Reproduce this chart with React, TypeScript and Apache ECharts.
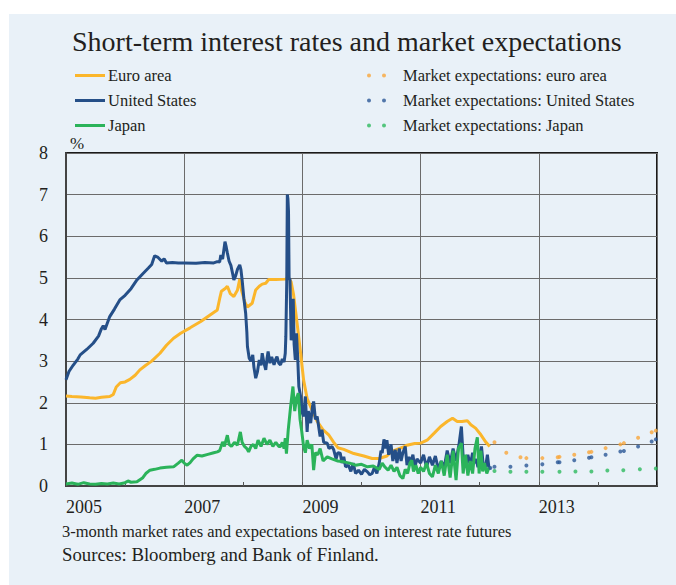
import React, { useEffect, useRef } from 'react';
import * as echarts from 'echarts';

const chartTitle = 'Short-term interest rates and market expectations';
const footnote = '3-month market rates and expectations based on interest rate futures';
const sources = 'Sources: Bloomberg and Bank of Finland.';
const yearTicks = [2005, 2007, 2009, 2011, 2013];

const euroArea: [number, number][] = [
  [2005.0, 2.16], [2005.1, 2.15], [2005.25, 2.14], [2005.4, 2.12], [2005.5, 2.11], [2005.6, 2.13],
  [2005.74, 2.15], [2005.8, 2.2], [2005.85, 2.38], [2005.92, 2.48], [2006.0, 2.5], [2006.08, 2.56],
  [2006.17, 2.66], [2006.25, 2.79], [2006.35, 2.9], [2006.45, 3.0], [2006.59, 3.19], [2006.7, 3.38],
  [2006.82, 3.55], [2006.94, 3.67], [2007.1, 3.8], [2007.28, 3.95], [2007.45, 4.12], [2007.56, 4.23],
  [2007.6, 4.5], [2007.63, 4.68], [2007.7, 4.75], [2007.73, 4.8], [2007.78, 4.62], [2007.84, 4.55],
  [2007.9, 4.7], [2007.94, 4.97], [2007.97, 4.7], [2008.03, 4.4], [2008.07, 4.3], [2008.15, 4.39],
  [2008.21, 4.71], [2008.27, 4.8], [2008.32, 4.85], [2008.38, 4.87], [2008.43, 4.96], [2008.55, 4.96],
  [2008.71, 4.97], [2008.77, 5.0], [2008.81, 4.9], [2008.85, 4.6], [2008.91, 3.91], [2008.97, 3.19],
  [2009.02, 2.55], [2009.08, 2.1], [2009.14, 1.9], [2009.25, 1.55], [2009.35, 1.35], [2009.45, 1.22],
  [2009.53, 1.05], [2009.6, 0.92], [2009.7, 0.88], [2009.87, 0.78], [2010.04, 0.72], [2010.18, 0.66],
  [2010.3, 0.66], [2010.43, 0.72], [2010.5, 0.82], [2010.6, 0.88], [2010.7, 0.93], [2010.77, 0.98],
  [2010.9, 1.02], [2011.0, 1.03], [2011.11, 1.1], [2011.23, 1.27], [2011.34, 1.43], [2011.45, 1.55],
  [2011.54, 1.63], [2011.62, 1.55], [2011.7, 1.55], [2011.79, 1.57], [2011.85, 1.47], [2011.93, 1.39],
  [2012.02, 1.23], [2012.1, 1.06], [2012.17, 0.95]
];

const unitedStates: [number, number][] = [
  [2005.0, 2.55], [2005.05, 2.75], [2005.12, 2.9], [2005.2, 3.05], [2005.24, 3.15], [2005.35, 3.28],
  [2005.46, 3.43], [2005.55, 3.6], [2005.6, 3.78], [2005.63, 3.85], [2005.66, 3.76], [2005.74, 4.07],
  [2005.82, 4.25], [2005.91, 4.47], [2006.0, 4.58], [2006.1, 4.74], [2006.2, 4.95], [2006.3, 5.1],
  [2006.39, 5.23], [2006.45, 5.32], [2006.5, 5.53], [2006.55, 5.5], [2006.62, 5.4], [2006.66, 5.46],
  [2006.7, 5.36], [2006.8, 5.37], [2006.9, 5.36], [2007.0, 5.36], [2007.2, 5.35], [2007.35, 5.37],
  [2007.5, 5.36], [2007.56, 5.39], [2007.6, 5.38], [2007.62, 5.55], [2007.65, 5.45], [2007.69, 5.87],
  [2007.71, 5.75], [2007.73, 5.6], [2007.76, 5.4], [2007.79, 5.3], [2007.82, 5.1], [2007.84, 4.95],
  [2007.87, 5.05], [2007.9, 5.2], [2007.94, 5.31], [2007.96, 5.2], [2007.98, 4.95], [2008.01, 4.5],
  [2008.04, 4.15], [2008.06, 3.7], [2008.07, 3.35], [2008.1, 3.07], [2008.13, 3.0], [2008.16, 3.15],
  [2008.18, 2.85], [2008.21, 2.59], [2008.24, 2.75], [2008.27, 3.03], [2008.3, 2.9], [2008.32, 3.19],
  [2008.35, 2.95], [2008.38, 2.79], [2008.4, 3.05], [2008.42, 3.23], [2008.45, 2.95], [2008.48, 3.1],
  [2008.52, 2.91], [2008.55, 3.05], [2008.57, 3.11], [2008.6, 2.95], [2008.63, 2.91], [2008.66, 3.05],
  [2008.69, 2.98], [2008.71, 3.19], [2008.72, 3.6], [2008.735, 4.9], [2008.745, 7.0], [2008.755, 6.9],
  [2008.765, 6.6], [2008.775, 5.0], [2008.79, 4.95], [2008.81, 3.5], [2008.83, 3.75], [2008.845, 4.5],
  [2008.86, 3.4], [2008.88, 3.03], [2008.9, 3.67], [2008.92, 3.1], [2008.94, 2.39], [2008.97, 2.15],
  [2009.0, 1.75], [2009.02, 1.67], [2009.05, 2.15], [2009.08, 1.3], [2009.1, 1.8], [2009.14, 1.51],
  [2009.17, 1.9], [2009.19, 2.03], [2009.22, 1.6], [2009.25, 1.67], [2009.3, 1.19], [2009.33, 1.35],
  [2009.36, 1.05], [2009.42, 1.03], [2009.45, 0.9], [2009.5, 0.95], [2009.53, 0.87], [2009.57, 0.65],
  [2009.6, 0.8], [2009.64, 0.79], [2009.67, 0.55], [2009.7, 0.7], [2009.73, 0.46], [2009.78, 0.5],
  [2009.82, 0.35], [2009.86, 0.55], [2009.9, 0.3], [2009.95, 0.38], [2010.0, 0.28], [2010.05, 0.4],
  [2010.1, 0.34], [2010.14, 0.27], [2010.18, 0.3], [2010.22, 0.45], [2010.26, 0.3], [2010.3, 0.55],
  [2010.33, 0.85], [2010.35, 0.79], [2010.38, 1.12], [2010.41, 0.9], [2010.43, 1.1], [2010.46, 0.75],
  [2010.5, 1.0], [2010.53, 0.6], [2010.57, 0.87], [2010.6, 0.55], [2010.64, 0.9], [2010.67, 0.6],
  [2010.7, 0.8], [2010.74, 0.95], [2010.77, 0.5], [2010.8, 0.7], [2010.83, 0.55], [2010.87, 0.75],
  [2010.9, 0.45], [2010.94, 0.65], [2011.0, 0.55], [2011.05, 0.75], [2011.1, 0.45], [2011.15, 0.7],
  [2011.2, 0.5], [2011.25, 0.72], [2011.3, 0.4], [2011.35, 0.6], [2011.4, 0.45], [2011.45, 0.85],
  [2011.5, 0.55], [2011.55, 0.9], [2011.6, 0.6], [2011.65, 1.0], [2011.69, 1.43], [2011.72, 0.7],
  [2011.76, 0.45], [2011.8, 0.75], [2011.84, 0.5], [2011.88, 0.8], [2011.91, 0.55], [2011.94, 0.65],
  [2011.97, 0.45], [2012.0, 0.75], [2012.03, 0.95], [2012.06, 0.5], [2012.1, 0.46], [2012.13, 0.75],
  [2012.16, 0.4]
];

const japan: [number, number][] = [
  [2005.0, 0.05], [2005.1, 0.07], [2005.2, 0.04], [2005.3, 0.08], [2005.4, 0.05], [2005.5, 0.04],
  [2005.6, 0.06], [2005.7, 0.05], [2005.8, 0.07], [2005.9, 0.05], [2006.0, 0.08], [2006.05, 0.12],
  [2006.1, 0.09], [2006.2, 0.1], [2006.3, 0.2], [2006.35, 0.3], [2006.42, 0.38], [2006.5, 0.4],
  [2006.59, 0.43], [2006.7, 0.45], [2006.82, 0.46], [2006.9, 0.55], [2006.96, 0.62], [2007.0, 0.55],
  [2007.05, 0.5], [2007.1, 0.56], [2007.15, 0.65], [2007.22, 0.74], [2007.3, 0.72], [2007.4, 0.76],
  [2007.5, 0.8], [2007.56, 0.82], [2007.6, 0.85], [2007.65, 1.06], [2007.68, 0.95], [2007.73, 1.22],
  [2007.76, 1.0], [2007.8, 0.95], [2007.85, 1.05], [2007.9, 0.98], [2007.95, 1.3], [2007.98, 1.05],
  [2008.02, 0.95], [2008.06, 0.9], [2008.09, 0.82], [2008.13, 0.95], [2008.17, 1.0], [2008.21, 0.9],
  [2008.25, 1.1], [2008.3, 0.95], [2008.35, 1.15], [2008.4, 1.0], [2008.45, 1.1], [2008.5, 0.95],
  [2008.55, 1.05], [2008.6, 0.95], [2008.63, 0.95], [2008.66, 1.05], [2008.69, 0.9], [2008.71, 1.15],
  [2008.73, 0.78], [2008.76, 1.34], [2008.8, 1.9], [2008.84, 2.39], [2008.87, 1.8], [2008.9, 2.1],
  [2008.93, 2.23], [2008.96, 1.6], [2008.99, 1.3], [2009.02, 0.95], [2009.05, 0.8], [2009.08, 1.1],
  [2009.12, 0.9], [2009.16, 1.0], [2009.19, 0.38], [2009.22, 0.8], [2009.26, 0.75], [2009.3, 0.9],
  [2009.35, 0.6], [2009.42, 0.7], [2009.5, 0.65], [2009.6, 0.6], [2009.7, 0.58], [2009.8, 0.55],
  [2009.9, 0.5], [2010.0, 0.52], [2010.1, 0.46], [2010.2, 0.48], [2010.3, 0.4], [2010.35, 0.55],
  [2010.4, 0.45], [2010.45, 0.38], [2010.5, 0.5], [2010.55, 0.35], [2010.6, 0.45], [2010.65, 0.25],
  [2010.7, 0.18], [2010.74, 0.4], [2010.78, 0.3], [2010.82, 0.55], [2010.85, 0.62], [2010.88, 0.35],
  [2010.92, 0.5], [2010.96, 0.3], [2011.0, 0.45], [2011.05, 0.35], [2011.1, 0.55], [2011.15, 0.3],
  [2011.2, 0.22], [2011.25, 0.5], [2011.3, 0.3], [2011.35, 0.6], [2011.4, 0.25], [2011.45, 0.75],
  [2011.5, 0.2], [2011.55, 0.85], [2011.6, 0.14], [2011.64, 0.9], [2011.69, 1.03], [2011.72, 0.3],
  [2011.76, 0.75], [2011.8, 0.25], [2011.84, 0.6], [2011.88, 0.3], [2011.92, 0.9], [2011.96, 1.17],
  [2011.99, 0.3], [2012.02, 0.85], [2012.05, 0.35], [2012.08, 0.55], [2012.12, 0.3], [2012.16, 0.45]
];

const euroExpect: [number, number][] = [
  [2012.25, 1.05], [2012.45, 0.8], [2012.69, 0.69], [2012.79, 0.67], [2013.06, 0.67], [2013.32, 0.69],
  [2013.35, 0.7], [2013.6, 0.75], [2013.85, 0.81], [2013.89, 0.82], [2014.13, 0.91], [2014.38, 1.0],
  [2014.44, 1.03], [2014.68, 1.16], [2014.91, 1.29], [2014.98, 1.33]
];
const usExpect: [number, number][] = [
  [2012.18, 0.43], [2012.25, 0.46], [2012.52, 0.46], [2012.79, 0.49], [2013.06, 0.52], [2013.32, 0.57],
  [2013.35, 0.57], [2013.6, 0.62], [2013.85, 0.68], [2013.89, 0.69], [2014.13, 0.75], [2014.38, 0.83],
  [2014.44, 0.84], [2014.68, 0.95], [2014.91, 1.07], [2014.98, 1.12]
];
const japanExpect: [number, number][] = [
  [2012.25, 0.36], [2012.52, 0.34], [2012.79, 0.34], [2013.06, 0.34], [2013.35, 0.34], [2013.62, 0.35],
  [2013.89, 0.35], [2014.16, 0.37], [2014.43, 0.38], [2014.71, 0.4], [2014.98, 0.42]
];

const FONT = '"Liberation Serif", "Times New Roman", serif';
const C_EURO = '#FBB62B';
const C_US = '#254F88';
const C_JP = '#2BB35A';
const C_EURO_DOT = '#F9A63A';
const C_US_DOT = '#2B5896';
const C_JP_DOT = '#2DBA5E';
const TWO_DOTS = 'path://M0,2a2,2 0 1,0 4,0a2,2 0 1,0 -4,0zM15,2a2,2 0 1,0 4,0a2,2 0 1,0 -4,0z';

export default function App() {
  const ref = useRef<HTMLDivElement>(null);
  useEffect(() => {
    const chart = echarts.init(ref.current!, null, { renderer: 'svg' });
    const lineSeries = (name: string, data: [number, number][], color: string) => ({
      name, type: 'line', data, showSymbol: false, symbol: 'none',
      lineStyle: { color, width: 3 }, itemStyle: { color }, clip: true,
    });
    const dotSeries = (name: string, data: [number, number][], color: string) => ({
      name, type: 'scatter', data, symbol: 'circle', symbolSize: 4,
      itemStyle: { color }, z: 4,
    });
    chart.setOption({
      animation: false,
      backgroundColor: '#E9F1F8',
      title: {
        text: chartTitle, left: 58, top: 8,
        textStyle: { fontFamily: FONT, fontSize: 28, fontWeight: 'normal', color: '#231F20' },
      },
      legend: [
        {
          left: 61, top: 48, orient: 'vertical', icon: 'rect', itemWidth: 30, itemHeight: 3, itemGap: 8,
          data: ['Euro area', 'United States', 'Japan'],
          textStyle: { fontFamily: FONT, fontSize: 16.5, lineHeight: 16, color: '#231F20', padding: [0, 0, 0, -2] },
        },
        {
          left: 353, top: 48, orient: 'vertical', itemWidth: 19, itemHeight: 4, itemGap: 8,
          data: [
            { name: 'Market expectations: euro area', icon: TWO_DOTS },
            { name: 'Market expectations: United States', icon: TWO_DOTS },
            { name: 'Market expectations: Japan', icon: TWO_DOTS },
          ],
          textStyle: { fontFamily: FONT, fontSize: 16.5, lineHeight: 16, color: '#231F20', padding: [0, 0, 0, 12] },
        },
      ],
      grid: { left: 57, top: 139, right: 19, bottom: 99, show: true, borderColor: '#1a1a1a', borderWidth: 2, backgroundColor: 'transparent' },
      xAxis: {
        type: 'value', min: 2005, max: 2015, interval: 2,
        axisLine: { show: true, lineStyle: { color: '#444', width: 2 } },
        axisTick: { show: true, inside: true, length: 4, lineStyle: { color: '#555' } },
        minorTick: { show: true, splitNumber: 2, length: 4, lineStyle: { color: '#555' } },
        splitLine: { show: true, lineStyle: { color: '#6b6b6b', width: 1 } },
        axisLabel: {
          fontFamily: FONT, fontSize: 18, color: '#231F20', align: 'left', margin: 12,
          formatter: (v: number) => (yearTicks.includes(v) ? String(v) : ''),
        },
      },
      yAxis: {
        type: 'value', min: 0, max: 8, interval: 1,
        axisLine: { show: true, lineStyle: { color: '#444', width: 2 } },
        axisTick: { show: false },
        splitLine: { show: true, lineStyle: { color: '#6b6b6b', width: 1 } },
        axisLabel: { fontFamily: FONT, fontSize: 18, color: '#231F20', margin: 18 },
      },
      graphic: [
        { type: 'text', left: 61, top: 121, style: { text: '%', font: `17px ${FONT}`, fill: '#231F20' } },
        { type: 'text', left: 53, top: 509, style: { text: footnote, font: `16.5px ${FONT}`, fill: '#231F20' } },
        { type: 'text', left: 53, top: 531, style: { text: sources, font: `18.8px ${FONT}`, fill: '#231F20' } },
      ],
      series: [
        lineSeries('Euro area', euroArea, C_EURO),
        lineSeries('United States', unitedStates, C_US),
        lineSeries('Japan', japan, C_JP),
        dotSeries('Market expectations: euro area', euroExpect, C_EURO_DOT),
        dotSeries('Market expectations: United States', usExpect, C_US_DOT),
        dotSeries('Market expectations: Japan', japanExpect, C_JP_DOT),
      ],
    });
    return () => chart.dispose();
  }, []);
  return (
    <div style={{ position: 'absolute', left: 0, top: 0, width: 676, height: 585, background: '#ffffff' }}>
      <div ref={ref} style={{ position: 'absolute', left: 9, top: 14, width: 667, height: 571 }} />
    </div>
  );
}
